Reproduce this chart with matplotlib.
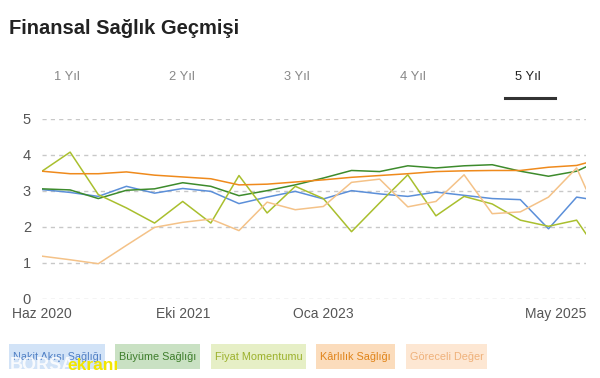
import matplotlib
matplotlib.use("Agg")
import matplotlib.pyplot as plt
from matplotlib.patches import Rectangle
from matplotlib.lines import Line2D

plt.rcParams['font.family'] = ['Liberation Sans', 'DejaVu Sans']

# months since Jun 2020 (quarterly, last point is the latest)
months = [0, 3, 6, 9, 12, 15, 18, 21, 24, 27, 30, 33, 36, 39, 42, 45, 48, 51, 54, 57, 58]

nakit = [3.04, 2.96, 2.85, 3.13, 2.94, 3.07, 2.99, 2.65, 2.83, 2.99, 2.78,
         3.01, 2.92, 2.85, 2.97, 2.88, 2.79, 2.76, 1.95, 2.83, 2.79]
buyume = [3.06, 3.03, 2.79, 3.02, 3.06, 3.23, 3.13, 2.87, 3.01, 3.17, 3.36,
          3.57, 3.54, 3.70, 3.64, 3.70, 3.73, 3.55, 3.41, 3.55, 3.67]
fiyat = [3.55, 4.08, 2.90, 2.53, 2.11, 2.71, 2.11, 3.43, 2.39, 3.13, 2.79,
         1.87, 2.67, 3.45, 2.31, 2.85, 2.64, 2.19, 2.02, 2.19, 1.81]
karlilik = [3.55, 3.48, 3.48, 3.53, 3.44, 3.39, 3.34, 3.17, 3.19, 3.25, 3.31,
            3.38, 3.43, 3.48, 3.54, 3.56, 3.57, 3.57, 3.66, 3.71, 3.78]
goreceli = [1.19, 1.09, 0.98, 1.49, 1.99, 2.13, 2.22, 1.90, 2.69, 2.48, 2.57,
            3.24, 3.33, 2.56, 2.71, 3.45, 2.37, 2.42, 2.83, 3.64, 3.06]

series_names = ["Nakit Akışı Sağlığı", "Büyüme Sağlığı", "Fiyat Momentumu",
                "Kârlılık Sağlığı", "Göreceli Değer"]
tick_months = [0, 15, 30, 58]
tick_labels = ["Haz 2020", "Eki 2021", "Oca 2023", "May 2025"]
tabs = ["1 Yıl", "2 Yıl", "3 Yıl", "4 Yıl", "5 Yıl"]

line_colors = ["#5b8fd9", "#3d8b2c", "#a9bf2e", "#ef8a1c", "#f4c288"]
bg_colors = ["#d2e3f7", "#c9e1c3", "#e6efc6", "#fbdcbc", "#fde7d3"]
txt_colors = ["#4f7fc4", "#3d7d2a", "#9cb12c", "#e08419", "#efb17a"]

W, H = 600, 378
fig = plt.figure(figsize=(6, 3.78), dpi=100)
fig.patch.set_facecolor("white")

ax = fig.add_axes([42 / W, 1 - 299 / H, (586 - 42) / W, (299 - 119) / H])
series = [nakit, buyume, fiyat, karlilik, goreceli]
order = [4, 2, 0, 1, 3]
for i in order:
    ax.plot(months, series[i], color=line_colors[i], lw=1.1, zorder=3 + i)

ax.set_xlim(0, 58)
ax.set_ylim(0, 5)
ax.set_yticks([0, 1, 2, 3, 4, 5])
ax.grid(axis="y", color="#c8c8c8", linestyle=(0, (3, 3)), lw=1)
ax.set_xticks(tick_months)
ax.set_xticklabels(tick_labels)
lbls = ax.get_xticklabels()
lbls[-1].set_horizontalalignment("right")
ax.tick_params(axis="both", length=0, labelsize=10, colors="#555555")
ax.tick_params(axis="y", pad=8, labelsize=10.5)
ax.tick_params(axis="x", pad=6)
for s in ax.spines.values():
    s.set_visible(False)

# Title
fig.text(9 / W, 1 - 28 / H, "Finansal Sağlık Geçmişi", fontsize=14.5,
         fontweight="bold", color="#222222", va="center", ha="left")

# Tabs
tab_x = [67, 182, 297, 413, 528]
for i, (tx, t) in enumerate(zip(tab_x, tabs)):
    fig.text(tx / W, 1 - 77 / H, t, fontsize=9.3,
             color="#222222" if i == 4 else "#888888", ha="center", va="center")
fig.add_artist(Line2D([505 / W, 555 / W], [1 - 97.5 / H, 1 - 97.5 / H],
                      color="#333333", lw=2.2, transform=fig.transFigure))

# Legend boxes
boxes = [(9, 105), (115, 200), (211, 306), (316, 395), (406, 487)]
for (x0, x1), name, bg, tc in zip(boxes, series_names, bg_colors, txt_colors):
    fig.add_artist(Rectangle((x0 / W, 1 - 369 / H), (x1 - x0) / W, 25 / H,
                             transform=fig.transFigure, facecolor=bg,
                             edgecolor="none"))
    fig.text((x0 + x1) / 2 / W, 1 - 356.5 / H, name, fontsize=7.8, color=tc,
             ha="center", va="center")

# Watermark
fig.text(10 / W, 1 - 366 / H, "BORSA", fontsize=13, fontweight="bold",
         color="white", alpha=0.85, ha="left", va="center")
fig.text(67 / W, 1 - 365 / H, "ekranı", fontsize=12.5, fontweight="bold",
         color="#f2e600", ha="left", va="center")

fig.savefig("out.png", dpi=100, facecolor="white")
